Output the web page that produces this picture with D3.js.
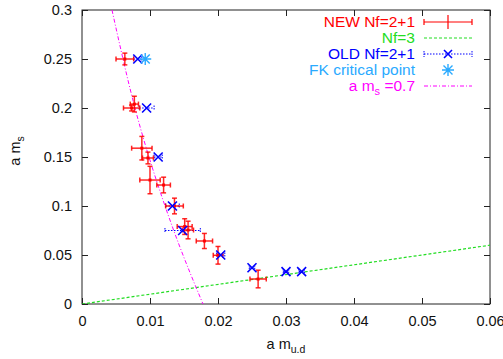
<!DOCTYPE html>
<html><head><meta charset="utf-8">
<script src="https://cdn.jsdelivr.net/npm/d3@7"></script>
<style>body{margin:0;background:#fff}svg{display:block;font-family:"Liberation Sans",Arial,sans-serif}</style>
</head><body><svg id="c" width="503" height="359"></svg>
<script>
// ---- data ----
const xTicks = [0, 0.01, 0.02, 0.03, 0.04, 0.05, 0.06];
const xTickLabels = ["0", "0.01", "0.02", "0.03", "0.04", "0.05", "0.06"];
const yTicks = [0, 0.05, 0.1, 0.15, 0.2, 0.25, 0.3];
const yTickLabels = ["0", "0.05", "0.1", "0.15", "0.2", "0.25", "0.3"];

const newMud  = [0.0063, 0.0073, 0.0077, 0.0088, 0.0097, 0.0100, 0.0120, 0.0136, 0.0151, 0.0156, 0.0180, 0.0200, 0.0259];
const newMs   = [0.250, 0.200, 0.204, 0.159, 0.149, 0.1265, 0.1214, 0.100, 0.079, 0.0755, 0.0643, 0.0497, 0.0255];
const newXerr = [0.0013, 0.0012, 0.0006, 0.0015, 0.0008, 0.0015, 0.0010, 0.0013, 0.0011, 0.0008, 0.0012, 0.0007, 0.0012];
const newYerr = [0.006, 0.003, 0.008, 0.012, 0.006, 0.014, 0.008, 0.008, 0.008, 0.009, 0.0077, 0.009, 0.009];

const oldMud  = [0.0082, 0.0095, 0.0112, 0.0133, 0.0148, 0.0204, 0.0250, 0.0300, 0.0323];
const oldMs   = [0.250, 0.200, 0.150, 0.100, 0.075, 0.050, 0.037, 0.033, 0.033];
const oldXerr = [0.0006, 0.0011, 0.0006, 0.0010, 0.0026, 0.0006, 0.0004, 0.0004, 0.0004];

const fkMud = [0.0093];
const fkMs  = [0.250];

const nf3Mud = [0, 0.06];
const nf3Ms  = [0, 0.06];

const ms07Ms  = [0.30, 0.25, 0.20, 0.15, 0.10, 0.05, 0.00];
const ms07Mud = [0.00441, 0.00603, 0.00779, 0.00985, 0.01221, 0.01485, 0.01779];

const legendLabels = ["NEW Nf=2+1", "Nf=3", "OLD Nf=2+1", "FK critical point", "a m_s =0.7"];

// ---- colors ----
const cRed = "#ff0000", cGreen = "#22dd22", cBlue = "#0000ff", cCyan = "#2aaaff", cMag = "#ff00ff";

const svg = d3.select("#c");
const L = 82, R = 490, T = 10, B = 304;
const x = d3.scaleLinear().domain([0, 0.06]).range([L, R]);
const y = d3.scaleLinear().domain([0, 0.3]).range([B, T]);

svg.append("defs").append("clipPath").attr("id", "clip")
  .append("rect").attr("x", L).attr("y", T).attr("width", R - L).attr("height", B - T);

const fs = 14.5, lfs = 15.5;
const tickLen = 6;
const gx = svg.append("g").attr("transform", `translate(0,${B})`)
  .call(d3.axisBottom(x).tickValues(xTicks).tickFormat((d, i) => xTickLabels[i]).tickSizeInner(-tickLen).tickSizeOuter(0).tickPadding(12));
const gxt = svg.append("g").attr("transform", `translate(0,${T})`)
  .call(d3.axisTop(x).tickValues(xTicks).tickFormat("").tickSizeInner(-tickLen).tickSizeOuter(0));
const gy = svg.append("g").attr("transform", `translate(${L},0)`)
  .call(d3.axisLeft(y).tickValues(yTicks).tickFormat((d, i) => yTickLabels[i]).tickSizeInner(-tickLen).tickSizeOuter(0).tickPadding(10));
const gyr = svg.append("g").attr("transform", `translate(${R},0)`)
  .call(d3.axisRight(y).tickValues(yTicks).tickFormat("").tickSizeInner(-tickLen).tickSizeOuter(0));
[gx, gxt, gy, gyr].forEach(g => {
  g.select(".domain").remove();
  g.selectAll("line").attr("stroke", "#222");
  g.selectAll("text").attr("font-size", fs).attr("fill", "#111").attr("font-family", "Liberation Sans, Arial, sans-serif");
});

// frame
svg.append("rect").attr("x", L).attr("y", T).attr("width", R - L).attr("height", B - T)
  .attr("fill", "none").attr("stroke", "#222").attr("stroke-width", 1);

const plot = svg.append("g").attr("clip-path", "url(#clip)");

// Nf=3 line
plot.append("path").datum(nf3Mud.map((d, i) => [d, nf3Ms[i]]))
  .attr("d", d3.line().x(d => x(d[0])).y(d => y(d[1])))
  .attr("fill", "none").attr("stroke", cGreen).attr("stroke-width", 1.2).attr("stroke-dasharray", "3,2");

// a m_s = 0.7 curve
plot.append("path").datum(ms07Mud.map((d, i) => [d, ms07Ms[i]]))
  .attr("d", d3.line().x(d => x(d[0])).y(d => y(d[1])).curve(d3.curveNatural))
  .attr("fill", "none").attr("stroke", cMag).attr("stroke-width", 1).attr("stroke-dasharray", "4,2,1,2");

// OLD error bars (dotted)
const oldG = plot.append("g");
oldMud.forEach((d, i) => {
  const cy = y(oldMs[i]);
  const x0 = x(d - oldXerr[i]), x1 = x(d + oldXerr[i]);
  oldG.append("line").attr("x1", x0).attr("x2", x1).attr("y1", cy).attr("y2", cy)
    .attr("stroke", cBlue).attr("stroke-width", 1.2).attr("stroke-dasharray", "1.5,1.5");
  [x0, x1].forEach(xx => {
    oldG.append("line").attr("x1", xx).attr("x2", xx).attr("y1", cy - 2.5).attr("y2", cy + 2.5)
      .attr("stroke", cBlue).attr("stroke-width", 1).attr("stroke-dasharray", "1.5,1");
  });
});

// NEW error bars
const newG = plot.append("g");
const st = (sel) => sel.attr("stroke", cRed).attr("stroke-width", 1.5).attr("stroke-opacity", 0.85);
newMud.forEach((d, i) => {
  const cx = x(d), cy = y(newMs[i]);
  const x0 = x(d - newXerr[i]), x1 = x(d + newXerr[i]);
  const y0 = y(newMs[i] - newYerr[i]), y1 = y(newMs[i] + newYerr[i]);
  st(newG.append("line").attr("x1", x0).attr("x2", x1).attr("y1", cy).attr("y2", cy));
  st(newG.append("line").attr("x1", cx).attr("x2", cx).attr("y1", y0).attr("y2", y1));
  [x0, x1].forEach(xx => { st(newG.append("line").attr("x1", xx).attr("x2", xx).attr("y1", cy - 2.5).attr("y2", cy + 2.5)); });
  [y0, y1].forEach(yy => { st(newG.append("line").attr("x1", cx - 2.5).attr("x2", cx + 2.5).attr("y1", yy).attr("y2", yy)); });
  newG.append("rect").attr("x", cx - 1.5).attr("y", cy - 1.5).attr("width", 3).attr("height", 3).attr("fill", cRed);
});

// markers
function xMark(g, cx, cy, s, col) {
  g.append("path").attr("d", `M${cx - s},${cy - s}L${cx + s},${cy + s}M${cx - s},${cy + s}L${cx + s},${cy - s}`)
    .attr("stroke", col).attr("stroke-width", 1.6).attr("fill", "none");
}
function star(g, cx, cy, s, col) {
  const k = s * 0.75;
  g.append("path").attr("d",
    `M${cx - s},${cy}L${cx + s},${cy}M${cx},${cy - s}L${cx},${cy + s}M${cx - k},${cy - k}L${cx + k},${cy + k}M${cx - k},${cy + k}L${cx + k},${cy - k}`)
    .attr("stroke", col).attr("stroke-width", 1.4).attr("fill", "none");
}
oldMud.forEach((d, i) => xMark(plot, x(d), y(oldMs[i]), 4.5, cBlue));
fkMud.forEach((d, i) => star(plot, x(d), y(fkMs[i]), 6, cCyan));

// legend
const lg = svg.append("g").attr("font-size", lfs);
const rowsY = [22, 38, 54, 70, 86];
const cols = [cRed, cGreen, cBlue, cCyan, cMag];
const lx0 = 424, lx1 = 472, lxc = 448, tx = 415;
legendLabels.forEach((lab, i) => {
  const t = lg.append("text").attr("x", tx).attr("y", rowsY[i] + 5).attr("text-anchor", "end").attr("fill", cols[i]);
  if (lab.includes("_s")) {
    const parts = lab.split("_s");
    t.append("tspan").text(parts[0]);
    t.append("tspan").attr("font-size", 11).attr("dy", 4).text("s");
    t.append("tspan").attr("dy", -4).text(parts[1]);
  } else t.text(lab);
});
const ln = (x1, x2, y1, y2, col, w, dash) => {
  const l = lg.append("line").attr("x1", x1).attr("x2", x2).attr("y1", y1).attr("y2", y2).attr("stroke", col).attr("stroke-width", w);
  if (dash) l.attr("stroke-dasharray", dash);
};
ln(lx0, lx1, rowsY[0], rowsY[0], cRed, 1.2);
ln(lxc, lxc, rowsY[0] - 7, rowsY[0] + 7, cRed, 1.2);
ln(lx0, lx0, rowsY[0] - 3, rowsY[0] + 3, cRed, 1.2);
ln(lx1, lx1, rowsY[0] - 3, rowsY[0] + 3, cRed, 1.2);
ln(lx0, lx1, rowsY[1], rowsY[1], cGreen, 1.2, "3,2");
ln(lx0, lx1, rowsY[2], rowsY[2], cBlue, 1.2, "1.5,1.5");
ln(lx0, lx0, rowsY[2] - 3, rowsY[2] + 3, cBlue, 1, "1.5,1");
ln(lx1, lx1, rowsY[2] - 3, rowsY[2] + 3, cBlue, 1, "1.5,1");
xMark(lg, lxc, rowsY[2], 4, cBlue);
star(lg, lxc, rowsY[3], 6, cCyan);
ln(lx0, lx1, rowsY[4], rowsY[4], cMag, 1, "4,2,1,2");

// axis labels
const xl = svg.append("text").attr("x", (L + R) / 2).attr("y", 349).attr("text-anchor", "middle").attr("font-size", fs).attr("fill", "#111");
xl.append("tspan").text("a m");
xl.append("tspan").attr("font-size", 10.5).attr("dy", 4).text("u.d");
const yl = svg.append("text").attr("transform", `translate(20,${(T + B) / 2 - 6}) rotate(-90)`).attr("text-anchor", "middle").attr("font-size", fs).attr("fill", "#111");
yl.append("tspan").text("a m");
yl.append("tspan").attr("font-size", 10.5).attr("dy", 4).text("s");
</script></body></html>
